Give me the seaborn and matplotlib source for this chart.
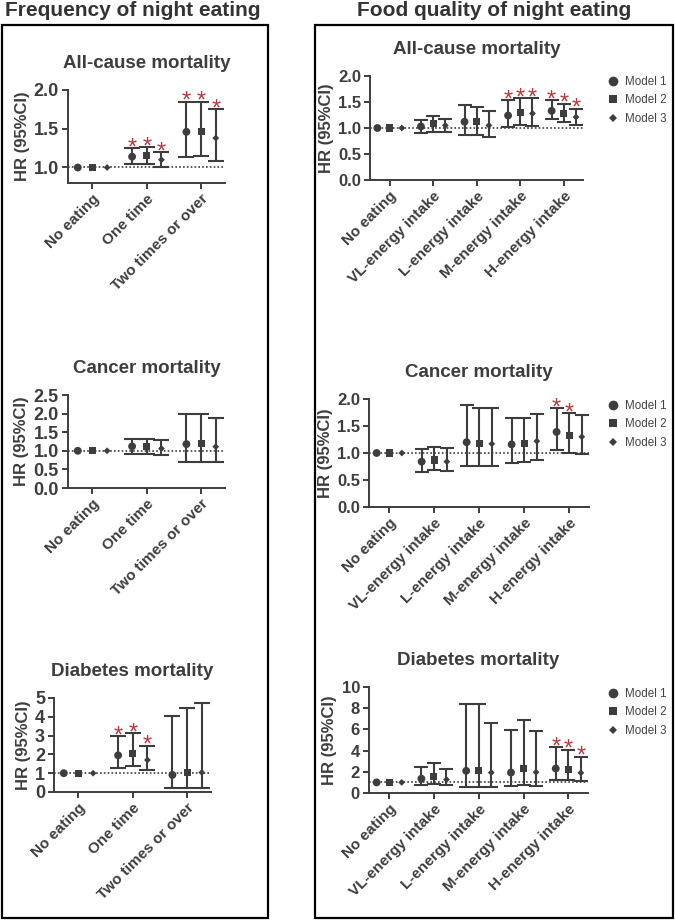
import pandas as pd
import matplotlib
matplotlib.use("Agg")
import matplotlib.pyplot as plt
import seaborn as sns
from matplotlib.patches import Rectangle

W, H = 675, 922
DARK = "#3d3d3d"
RED = "#b8393b"

models = ["Model 1", "Model 2", "Model 3"]
freq_cats = ["No eating", "One time", "Two times or over"]
qual_cats = ["No eating", "VL-energy intake", "L-energy intake",
             "M-energy intake", "H-energy intake"]

# rows = models, columns = categories
freq_all_hr = [[1.00, 1.14, 1.46], [1.00, 1.16, 1.47], [1.00, 1.10, 1.38]]
freq_all_lo = [[1.00, 1.04, 1.14], [1.00, 1.05, 1.15], [1.00, 1.01, 1.09]]
freq_all_hi = [[1.00, 1.25, 1.85], [1.00, 1.26, 1.85], [1.00, 1.20, 1.75]]
freq_all_sig = [[0, 1, 1], [0, 1, 1], [0, 1, 1]]

freq_can_hr = [[1.00, 1.12, 1.18], [1.00, 1.12, 1.19], [1.00, 1.06, 1.11]]
freq_can_lo = [[1.00, 0.91, 0.71], [1.00, 0.91, 0.71], [1.00, 0.90, 0.69]]
freq_can_hi = [[1.00, 1.33, 2.00], [1.00, 1.33, 1.98], [1.00, 1.29, 1.87]]
freq_can_sig = [[0, 0, 0], [0, 0, 0], [0, 0, 0]]

freq_dia_hr = [[1.00, 1.95, 0.91], [1.00, 2.07, 1.02], [1.00, 1.70, 1.04]]
freq_dia_lo = [[1.00, 1.29, 0.21], [1.00, 1.38, 0.23], [1.00, 1.16, 0.23]]
freq_dia_hi = [[1.00, 2.98, 4.02], [1.00, 3.13, 4.48], [1.00, 2.46, 4.71]]
freq_dia_sig = [[0, 1, 0], [0, 1, 0], [0, 1, 0]]

qual_all_hr = [[1.00, 1.03, 1.12, 1.24, 1.33], [1.00, 1.08, 1.12, 1.29, 1.28], [1.00, 1.05, 1.05, 1.28, 1.21]]
qual_all_lo = [[1.00, 0.91, 0.87, 1.01, 1.17], [1.00, 0.93, 0.87, 1.05, 1.12], [1.00, 0.93, 0.83, 1.03, 1.06]]
qual_all_hi = [[1.00, 1.15, 1.44, 1.53, 1.54], [1.00, 1.23, 1.40, 1.58, 1.47], [1.00, 1.17, 1.33, 1.57, 1.37]]
qual_all_sig = [[0, 0, 0, 1, 1], [0, 0, 0, 1, 1], [0, 0, 0, 1, 1]]

qual_can_hr = [[1.00, 0.84, 1.20, 1.16, 1.39], [1.00, 0.87, 1.17, 1.17, 1.32], [1.00, 0.84, 1.17, 1.22, 1.30]]
qual_can_lo = [[1.00, 0.65, 0.76, 0.81, 1.06], [1.00, 0.68, 0.75, 0.83, 1.00], [1.00, 0.66, 0.75, 0.87, 0.99]]
qual_can_hi = [[1.00, 1.07, 1.88, 1.64, 1.83], [1.00, 1.12, 1.83, 1.65, 1.74], [1.00, 1.10, 1.83, 1.73, 1.70]]
qual_can_sig = [[0, 0, 0, 0, 1], [0, 0, 0, 0, 1], [0, 0, 0, 0, 0]]

qual_dia_hr = [[1.00, 1.35, 2.09, 1.93, 2.31], [1.00, 1.52, 2.15, 2.28, 2.25], [1.00, 1.27, 1.93, 1.96, 1.90]]
qual_dia_lo = [[1.00, 0.73, 0.57, 0.66, 1.27], [1.00, 0.89, 0.57, 0.75, 1.27], [1.00, 0.73, 0.57, 0.66, 1.14]]
qual_dia_hi = [[1.00, 2.43, 8.40, 5.95, 4.34], [1.00, 2.80, 8.40, 6.84, 4.08], [1.00, 2.25, 6.60, 5.82, 3.42]]
qual_dia_sig = [[0, 0, 0, 0, 1], [0, 0, 0, 0, 1], [0, 0, 0, 0, 1]]

sns.set_style("ticks")
plt.rcParams["font.family"] = ["Liberation Sans", "DejaVu Sans"]
plt.rcParams["font.weight"] = "bold"

marker_map = {"Model 1": "o", "Model 2": "s", "Model 3": "D"}
size_map = {"Model 1": 32, "Model 2": 26, "Model 3": 12}
legend_ms = {"Model 1": 7.0, "Model 2": 6.3, "Model 3": 4.3}


def px_axes(fig, x0, x1, y0, y1):
    return fig.add_axes([x0 / W, 1 - y1 / H, (x1 - x0) / W, (y1 - y0) / H])


def draw_panel(ax, cats, hr, lo, hi, sig, title, ylim, yticks, ytfmt,
               offset, capsize, ysize, legend_top=None):
    rows = []
    for m, model in enumerate(models):
        for c, cat in enumerate(cats):
            rows.append(dict(model=model, cat=cat, pos=c + offset[m],
                             hr=hr[m][c], lo=lo[m][c], hi=hi[m][c], sig=sig[m][c]))
    df = pd.DataFrame(rows)

    ax.axhline(1.0, ls=(0, (1, 1.3)), color=DARK, lw=1.2, zorder=1)
    ci = df[df.hi > df.lo]
    ax.errorbar(ci.pos, ci.hr, yerr=[ci.hr - ci.lo, ci.hi - ci.hr], fmt="none",
                ecolor=DARK, elinewidth=1.5, capsize=capsize, capthick=1.5, zorder=2)
    sns.scatterplot(data=df, x="pos", y="hr", style="model", markers=marker_map,
                    size="model", sizes=size_map, color=DARK, edgecolor="none",
                    linewidth=0, ax=ax, zorder=3, legend=legend_top is not None)
    for _, r in df[df.sig == 1].iterrows():
        ax.annotate("*", (r.pos, r.hi), xytext=(0, -4.5), textcoords="offset points",
                    ha="center", va="baseline", color=RED, fontsize=17,
                    fontweight="normal")

    ax.set_xlim(-0.45, len(cats) - 1 + 0.44)
    ax.set_ylim(*ylim)
    ax.set_yticks(yticks)
    ax.set_yticklabels([ytfmt.format(v) for v in yticks], fontsize=ysize,
                       fontweight="bold", color=DARK)
    ax.set_xticks(range(len(cats)))
    ax.set_xticklabels(cats, rotation=45, ha="right", rotation_mode="anchor",
                       fontsize=11, fontweight="bold", color=DARK)
    ax.set_xlabel("")
    ax.set_ylabel("HR (95%CI)", fontsize=12, fontweight="bold", color=DARK,
                  labelpad=3)
    ax.set_title(title, fontsize=13.5, fontweight="bold", color=DARK, pad=16)
    ax.tick_params(axis="both", width=1.4, length=4.5, color=DARK, pad=2)
    for s in ["left", "bottom"]:
        ax.spines[s].set_linewidth(1.4)
        ax.spines[s].set_color(DARK)
    sns.despine(ax=ax)

    if legend_top is not None:
        sns.move_legend(ax, "upper left", bbox_to_anchor=(607 / W, 1 - legend_top / H),
                        bbox_transform=ax.figure.transFigure, title=None,
                        frameon=False, fontsize=8.4, labelspacing=0.55,
                        handlelength=1.0, handletextpad=0.55, borderpad=0,
                        borderaxespad=0)
        leg = ax.get_legend()
        for t, h in zip(leg.get_texts(), leg.legend_handles):
            t.set_fontweight("normal")
            t.set_color("#444444")
            h.set_markersize(legend_ms[t.get_text()])


fig = plt.figure(figsize=(W / 100, H / 100), dpi=100)

fig.add_artist(Rectangle((2 / W, 4 / H), 266 / W, 893 / H, transform=fig.transFigure,
                         fill=False, lw=1.6, ec="black"))
fig.add_artist(Rectangle((315 / W, 4 / H), 358 / W, 893 / H, transform=fig.transFigure,
                         fill=False, lw=1.6, ec="black"))
fig.text(133 / W, 1 - 11 / H, "Frequency of night eating", ha="center", va="center",
         fontsize=15, fontweight="bold", color="#333333",
         family=["Liberation Sans Narrow", "Liberation Sans"])
fig.text(494 / W, 1 - 11 / H, "Food quality of night eating", ha="center", va="center",
         fontsize=15, fontweight="bold", color="#333333",
         family=["Liberation Sans Narrow", "Liberation Sans"])

left_off = [-0.27, 0.0, 0.27]
right_off = [-0.28, 0.0, 0.28]

ax = px_axes(fig, 68, 225, 90, 183)
draw_panel(ax, freq_cats, freq_all_hr, freq_all_lo, freq_all_hi, freq_all_sig,
           "All-cause mortality", (0.8, 2.0), [1.0, 1.5, 2.0], "{:.1f}", left_off, 5.5, 13)

ax = px_axes(fig, 68, 225, 395, 488)
draw_panel(ax, freq_cats, freq_can_hr, freq_can_lo, freq_can_hi, freq_can_sig,
           "Cancer mortality", (0, 2.5), [0, 0.5, 1.0, 1.5, 2.0, 2.5], "{:.1f}", left_off, 5.5, 13)

ax = px_axes(fig, 54, 211, 698, 792)
draw_panel(ax, freq_cats, freq_dia_hr, freq_dia_lo, freq_dia_hi, freq_dia_sig,
           "Diabetes mortality", (0, 5), [0, 1, 2, 3, 4, 5], "{:.0f}", left_off, 5.5, 13)

ax = px_axes(fig, 370, 583, 76, 180)
draw_panel(ax, qual_cats, qual_all_hr, qual_all_lo, qual_all_hi, qual_all_sig,
           "All-cause mortality", (0, 2.0), [0, 0.5, 1.0, 1.5, 2.0], "{:.1f}", right_off, 4.8, 12,
           legend_top=76)

ax = px_axes(fig, 369, 589, 399, 507)
draw_panel(ax, qual_cats, qual_can_hr, qual_can_lo, qual_can_hi, qual_can_sig,
           "Cancer mortality", (0, 2.0), [0, 0.5, 1.0, 1.5, 2.0], "{:.1f}", right_off, 4.8, 12,
           legend_top=400)

ax = px_axes(fig, 369, 588, 687, 793)
draw_panel(ax, qual_cats, qual_dia_hr, qual_dia_lo, qual_dia_hi, qual_dia_sig,
           "Diabetes mortality", (0, 10), [0, 2, 4, 6, 8, 10], "{:.0f}", right_off, 4.8, 12,
           legend_top=688)

fig.savefig("out.png", dpi=100)
